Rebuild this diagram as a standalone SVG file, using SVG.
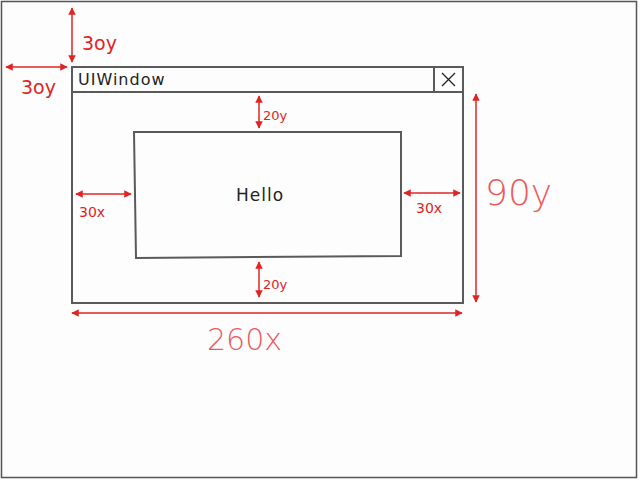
<svg xmlns="http://www.w3.org/2000/svg" width="640" height="480" viewBox="0 0 640 480">
<style>
.box{fill:none;stroke:#5a5a5a;stroke-width:2}
.dim{stroke:#e02424;stroke-width:1.5;fill:none}
.lbl{font-family:"DejaVu Sans",sans-serif;fill:#e02424}
.big{font-family:"DejaVu Sans",sans-serif;fill:#ec5a5a;font-weight:200}
.txt{font-family:"DejaVu Sans",sans-serif;fill:#222}
</style>
<defs>
<marker id="ah" viewBox="0 0 10 10" refX="9" refY="5" markerWidth="5" markerHeight="5" orient="auto-start-reverse">
<path d="M0,0 L10,5 L0,10 z" fill="#e02424"/>
</marker>
</defs>
<rect x="0" y="0" width="640" height="480" fill="#fdfdfd"/>
<rect id="frame" x="1.5" y="1.5" width="635" height="476" fill="none" stroke="#555" stroke-width="1.5"/>
<g id="window">
<rect class="box" x="72" y="67" width="391" height="236"/>
<line class="box" x1="72" y1="92" x2="463" y2="92"/>
<text class="txt" x="78" y="85" font-size="16" letter-spacing="1">UIWindow</text>
</g>
<g id="close">
<line class="box" x1="434" y1="67" x2="434" y2="92"/>
<path d="M442,73 L455,86 M455,73 L442,86" stroke="#222" stroke-width="1.3" fill="none"/>
</g>
<g id="content">
<path class="box" d="M134,132 L401,132 L401,256 L136,258 Z"/>
<text class="txt" x="236" y="201" font-size="17" letter-spacing="1">Hello</text>
</g>
<g id="connectors">
<line class="dim" x1="72" y1="8" x2="72" y2="62" marker-start="url(#ah)" marker-end="url(#ah)"/>
<line class="dim" x1="6" y1="67" x2="67" y2="67" marker-start="url(#ah)" marker-end="url(#ah)"/>
<line class="dim" x1="259" y1="96" x2="259" y2="128" marker-start="url(#ah)" marker-end="url(#ah)"/>
<line class="dim" x1="259" y1="262" x2="259" y2="297" marker-start="url(#ah)" marker-end="url(#ah)"/>
<line class="dim" x1="76" y1="194" x2="131" y2="194" marker-start="url(#ah)" marker-end="url(#ah)"/>
<line class="dim" x1="404" y1="193" x2="460" y2="193" marker-start="url(#ah)" marker-end="url(#ah)"/>
<line class="dim" x1="476" y1="94" x2="476" y2="302" marker-start="url(#ah)" marker-end="url(#ah)"/>
<line class="dim" x1="72" y1="313" x2="462" y2="313" marker-start="url(#ah)" marker-end="url(#ah)"/>
</g>
<g id="labels">
<text class="lbl" x="82" y="50" font-size="19">3oy</text>
<text class="lbl" x="21" y="94" font-size="19">3oy</text>
<text class="lbl" x="263" y="120" font-size="13">20y</text>
<text class="lbl" x="263" y="289" font-size="13">20y</text>
<text class="lbl" x="79" y="217" font-size="14">30x</text>
<text class="lbl" x="416" y="213" font-size="14">30x</text>
<text class="big" x="485" y="205" font-size="36">90y</text>
<text class="big" x="207" y="350" font-size="30">260x</text>
</g>
</svg>
